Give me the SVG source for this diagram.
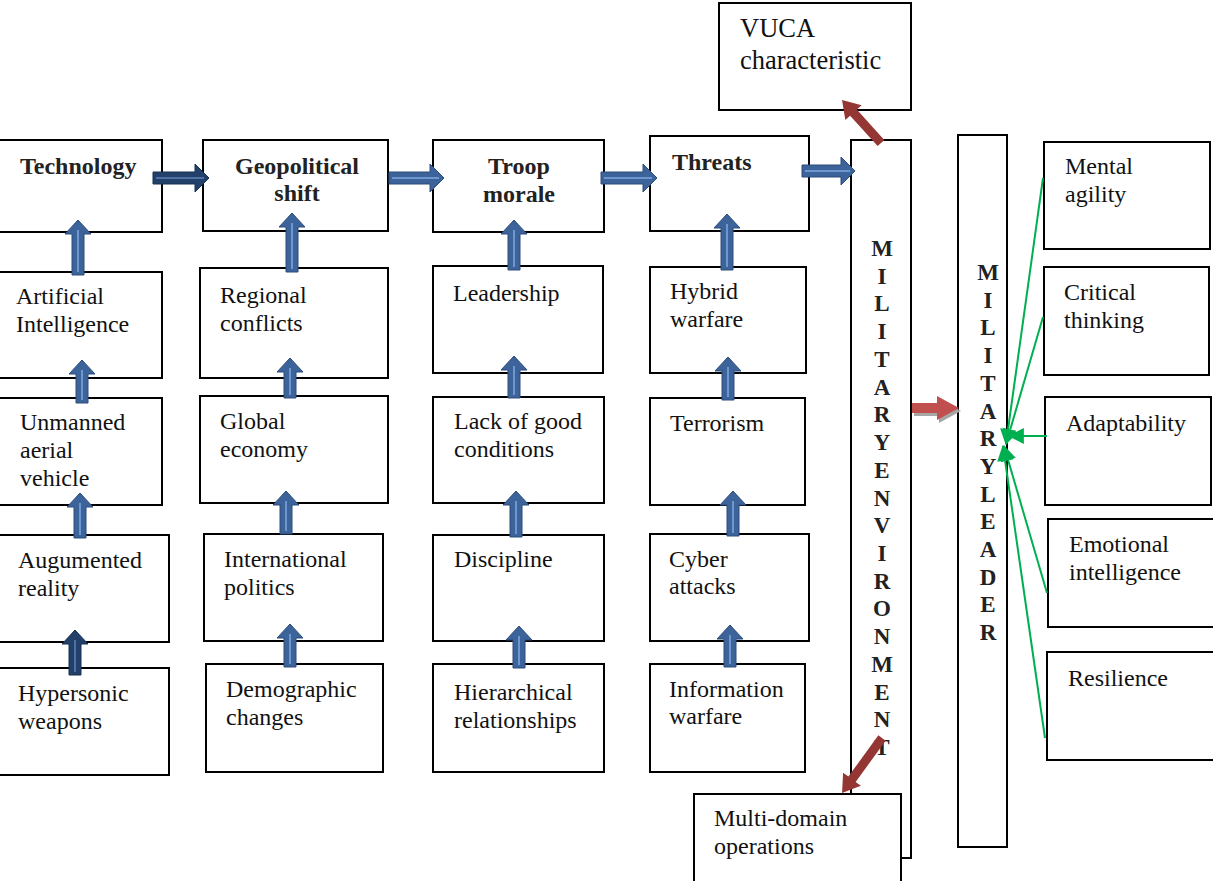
<svg xmlns="http://www.w3.org/2000/svg" width="1213" height="881" viewBox="0 0 1213 881">
<defs>
<style>
.box{fill:#fff;stroke:#000;stroke-width:2}
.t{font-family:"Liberation Serif","Times New Roman",serif;font-size:24px;fill:#111}
.b{font-family:"Liberation Serif","Times New Roman",serif;font-size:24px;font-weight:bold;fill:#222}
.v{font-family:"Liberation Serif","Times New Roman",serif;font-size:23px;font-weight:bold;fill:#222;text-anchor:middle}
.ba{fill:#3d639b;stroke:#2c4c7a;stroke-width:1}
.da{fill:#22406a;stroke:#17304f;stroke-width:1}
.st{stroke:#6e97cf;stroke-width:2;fill:none}
.dst{stroke:#4d72a6;stroke-width:2;fill:none}
.ra{fill:#943634}
.g{stroke:#00b050;stroke-width:2;fill:none;marker-end:url(#gh)}
</style>
<marker id="gh" markerUnits="userSpaceOnUse" markerWidth="16" markerHeight="16" refX="13" refY="7" orient="auto" viewBox="0 0 14 14">
<path d="M0,0 L14,7 L0,14 Z" fill="#00b050"/>
</marker>
</defs>
<rect width="1213" height="881" fill="#fff"/>

<g id="env"><rect class="box" x="851" y="140" width="60" height="718"/>
<text class="v"><tspan x="882" y="256">M</tspan><tspan x="882" y="283.7">I</tspan><tspan x="882" y="311.4">L</tspan><tspan x="882" y="339.2">I</tspan><tspan x="882" y="366.9">T</tspan><tspan x="882" y="394.6">A</tspan><tspan x="882" y="422.3">R</tspan><tspan x="882" y="450">Y</tspan><tspan x="882" y="477.8">E</tspan><tspan x="882" y="505.5">N</tspan><tspan x="882" y="533.2">V</tspan><tspan x="882" y="560.9">I</tspan><tspan x="882" y="588.6">R</tspan><tspan x="882" y="616.4">O</tspan><tspan x="882" y="644.1">N</tspan><tspan x="882" y="671.8">M</tspan><tspan x="882" y="699.5">E</tspan><tspan x="882" y="727.2">N</tspan><tspan x="882" y="755">T</tspan></text></g>

<g id="leader"><rect class="box" x="958" y="135" width="49" height="712"/>
<text class="v"><tspan x="988" y="280">M</tspan><tspan x="988" y="307.7">I</tspan><tspan x="988" y="335.4">L</tspan><tspan x="988" y="363.1">I</tspan><tspan x="988" y="390.8">T</tspan><tspan x="988" y="418.5">A</tspan><tspan x="988" y="446.1">R</tspan><tspan x="988" y="473.8">Y</tspan><tspan x="988" y="501.5">L</tspan><tspan x="988" y="529.2">E</tspan><tspan x="988" y="556.9">A</tspan><tspan x="988" y="584.6">D</tspan><tspan x="988" y="612.3">E</tspan><tspan x="988" y="640">R</tspan></text></g>

<g id="technology"><rect class="box" x="-2" y="140" width="164" height="92"/><text class="b" x="20" y="174">Technology</text></g>
<g id="ai"><rect class="box" x="-2" y="272" width="164" height="106"/><text class="t" x="16" y="304">Artificial</text><text class="t" x="16" y="332">Intelligence</text></g>
<g id="uav"><rect class="box" x="-2" y="398" width="164" height="107"/><text class="t" x="20" y="430">Unmanned</text><text class="t" x="20" y="458">aerial</text><text class="t" x="20" y="486">vehicle</text></g>
<g id="ar"><rect class="box" x="-2" y="535" width="171" height="107"/><text class="t" x="18" y="568">Augumented</text><text class="t" x="18" y="596">reality</text></g>
<g id="hyper"><rect class="box" x="-2" y="668" width="171" height="107"/><text class="t" x="18" y="701">Hypersonic</text><text class="t" x="18" y="729">weapons</text></g>

<g id="geo"><rect class="box" x="203" y="140" width="185" height="91"/><text class="b" x="297" y="174" text-anchor="middle">Geopolitical</text><text class="b" x="297" y="201" text-anchor="middle">shift</text></g>
<g id="regional"><rect class="box" x="200" y="268" width="188" height="110"/><text class="t" x="220" y="303">Regional</text><text class="t" x="220" y="331">conflicts</text></g>
<g id="global"><rect class="box" x="200" y="396" width="188" height="107"/><text class="t" x="220" y="429">Global</text><text class="t" x="220" y="457">economy</text></g>
<g id="intl"><rect class="box" x="204" y="534" width="179" height="107"/><text class="t" x="224" y="567">International</text><text class="t" x="224" y="595">politics</text></g>
<g id="demo"><rect class="box" x="206" y="664" width="177" height="108"/><text class="t" x="226" y="697">Demographic</text><text class="t" x="226" y="725">changes</text></g>

<g id="troop"><rect class="box" x="433" y="140" width="171" height="92"/><text class="b" x="519" y="174" text-anchor="middle">Troop</text><text class="b" x="519" y="202" text-anchor="middle">morale</text></g>
<g id="leadership"><rect class="box" x="433" y="266" width="170" height="107"/><text class="t" x="453" y="301">Leadership</text></g>
<g id="lack"><rect class="box" x="433" y="397" width="171" height="106"/><text class="t" x="454" y="429">Lack of good</text><text class="t" x="454" y="457">conditions</text></g>
<g id="discipline"><rect class="box" x="433" y="535" width="171" height="106"/><text class="t" x="454" y="567">Discipline</text></g>
<g id="hier"><rect class="box" x="433" y="664" width="171" height="108"/><text class="t" x="454" y="700">Hierarchical</text><text class="t" x="454" y="728">relationships</text></g>

<g id="threats"><rect class="box" x="650" y="136" width="159" height="95"/><text class="b" x="672" y="170">Threats</text></g>
<g id="hybrid"><rect class="box" x="650" y="267" width="156" height="106"/><text class="t" x="670" y="299">Hybrid</text><text class="t" x="670" y="327">warfare</text></g>
<g id="terror"><rect class="box" x="650" y="398" width="155" height="107"/><text class="t" x="670" y="431">Terrorism</text></g>
<g id="cyber"><rect class="box" x="650" y="534" width="159" height="107"/><text class="t" x="669" y="567">Cyber</text><text class="t" x="669" y="594">attacks</text></g>
<g id="info"><rect class="box" x="650" y="664" width="155" height="108"/><text class="t" x="669" y="697">Information</text><text class="t" x="669" y="724">warfare</text></g>

<g id="vuca"><rect class="box" x="719" y="3" width="192" height="107"/><text class="t" x="740" y="37" style="font-size:26.5px">VUCA</text><text class="t" x="740" y="69" style="font-size:26.5px">characteristic</text></g>
<g id="multi"><rect class="box" x="694" y="794" width="207" height="100"/><text class="t" x="714" y="826">Multi-domain</text><text class="t" x="714" y="854">operations</text></g>

<g id="mental"><rect class="box" x="1044" y="142" width="166" height="107"/><text class="t" x="1065" y="174">Mental</text><text class="t" x="1065" y="202">agility</text></g>
<g id="critical"><rect class="box" x="1044" y="267" width="165" height="108"/><text class="t" x="1064" y="300">Critical</text><text class="t" x="1064" y="328">thinking</text></g>
<g id="adapt"><rect class="box" x="1045" y="397" width="166" height="108"/><text class="t" x="1066" y="431">Adaptability</text></g>
<g id="emotional"><rect class="box" x="1048" y="519" width="167" height="108"/><text class="t" x="1069" y="552">Emotional</text><text class="t" x="1069" y="580">intelligence</text></g>
<g id="resilience"><rect class="box" x="1047" y="652" width="168" height="108"/><text class="t" x="1068" y="686">Resilience</text></g>

<g id="connectors">
<polygon class="ba" points="72,275 72,234 65,234 78,220 91,234 84,234 84,275"/><line class="st" x1="78" y1="272" x2="78" y2="230"/>
<polygon class="ba" points="76,403 76,374 69,374 82,360 95,374 88,374 88,403"/><line class="st" x1="82" y1="400" x2="82" y2="370"/>
<polygon class="ba" points="74,538 74,507 67,507 80,493 93,507 86,507 86,538"/><line class="st" x1="80" y1="535" x2="80" y2="503"/>
<polygon class="da" points="69,675 69,644 62,644 75,630 88,644 81,644 81,675"/><line class="dst" x1="75" y1="672" x2="75" y2="640"/>
<polygon class="ba" points="286,272 286,227 279,227 292,213 305,227 298,227 298,272"/><line class="st" x1="292" y1="269" x2="292" y2="223"/>
<polygon class="ba" points="284,398 284,372 277,372 290,358 303,372 296,372 296,398"/><line class="st" x1="290" y1="395" x2="290" y2="368"/>
<polygon class="ba" points="280,534 280,505 273,505 286,491 299,505 292,505 292,534"/><line class="st" x1="286" y1="531" x2="286" y2="501"/>
<polygon class="ba" points="284,667 284,638 277,638 290,624 303,638 296,638 296,667"/><line class="st" x1="290" y1="664" x2="290" y2="634"/>
<polygon class="ba" points="508,270 508,234 501,234 514,220 527,234 520,234 520,270"/><line class="st" x1="514" y1="267" x2="514" y2="230"/>
<polygon class="ba" points="508,398 508,370 501,370 514,356 527,370 520,370 520,398"/><line class="st" x1="514" y1="395" x2="514" y2="366"/>
<polygon class="ba" points="510,537 510,505 503,505 516,491 529,505 522,505 522,537"/><line class="st" x1="516" y1="534" x2="516" y2="501"/>
<polygon class="ba" points="513,668 513,640 506,640 519,626 532,640 525,640 525,668"/><line class="st" x1="519" y1="665" x2="519" y2="636"/>
<polygon class="ba" points="721,270 721,228 714,228 727,214 740,228 733,228 733,270"/><line class="st" x1="727" y1="267" x2="727" y2="224"/>
<polygon class="ba" points="722,400 722,371 715,371 728,357 741,371 734,371 734,400"/><line class="st" x1="728" y1="397" x2="728" y2="367"/>
<polygon class="ba" points="727,536 727,505 720,505 733,491 746,505 739,505 739,536"/><line class="st" x1="733" y1="533" x2="733" y2="501"/>
<polygon class="ba" points="724,667 724,639 717,639 730,625 743,639 736,639 736,667"/><line class="st" x1="730" y1="664" x2="730" y2="635"/>

<polygon class="da" points="153,172 195,172 195,164 209,178 195,192 195,184 153,184"/><line class="dst" x1="156" y1="178" x2="204" y2="178"/>
<polygon class="ba" points="389,172 430,172 430,164 444,178 430,192 430,184 389,184"/><line class="st" x1="392" y1="178" x2="439" y2="178"/>
<polygon class="ba" points="601,172 643,172 643,164 657,178 643,192 643,184 601,184"/><line class="st" x1="604" y1="178" x2="652" y2="178"/>
<polygon class="ba" points="802,165 841,165 841,157 855,171 841,185 841,177 802,177"/><line class="st" x1="805" y1="171" x2="850" y2="171"/>

<polygon class="ra" points="0,-4.5 41,-4.5 41,-11 58,0 41,11 41,4.5 0,4.5" transform="translate(881,143) rotate(-132.2)"/>
<polygon class="ra" points="0,-4.5 51,-4.5 51,-11 68,0 51,11 51,4.5 0,4.5" transform="translate(882,738) rotate(126)"/>

<polygon fill="#a6a6a6" points="914,406 939,406 939,399 961,411 939,423 939,416 914,416"/>
<polygon fill="#c0504d" points="912,403 937,403 937,396 959,408 937,420 937,413 912,413"/>

<line class="g" x1="1043" y1="178" x2="1006" y2="444"/>
<line class="g" x1="1043" y1="317" x2="1006" y2="444"/>
<line class="g" x1="1047" y1="436" x2="1009" y2="436"/>
<line class="g" x1="1047" y1="593" x2="1004" y2="446"/>
<line class="g" x1="1045" y1="738" x2="1003" y2="446"/>
</g>
</svg>
